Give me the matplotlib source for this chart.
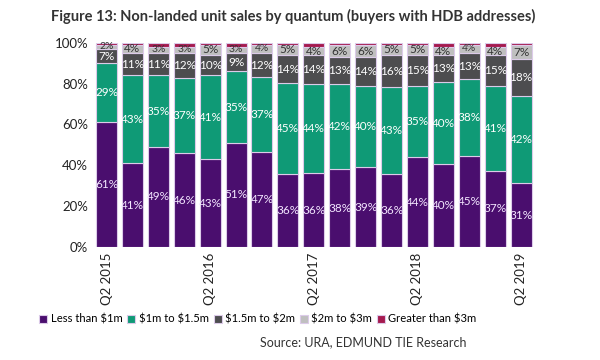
import numpy as np
import matplotlib
matplotlib.use("Agg")
import matplotlib.pyplot as plt

plt.rcParams['font.family'] = ['Lato', 'DejaVu Sans']
plt.rcParams['text.parse_math'] = False

# quarters Q2 2015 .. Q2 2019
quarters = ["Q2 2015", "Q3 2015", "Q4 2015", "Q1 2016", "Q2 2016", "Q3 2016", "Q4 2016",
            "Q1 2017", "Q2 2017", "Q3 2017", "Q4 2017", "Q1 2018", "Q2 2018", "Q3 2018",
            "Q4 2018", "Q1 2019", "Q2 2019"]
tick_labels = ["Q2 2015", "Q2 2016", "Q2 2017", "Q2 2018", "Q2 2019"]

less_1m = [61, 41, 49, 46, 43, 51, 47, 36, 36, 38, 39, 36, 44, 40, 45, 37, 31]
m1_15 = [29, 43, 35, 37, 41, 35, 37, 45, 44, 42, 40, 43, 35, 40, 38, 41, 42]
m15_2 = [7, 11, 11, 12, 10, 9, 12, 14, 14, 13, 14, 16, 15, 13, 13, 15, 18]
m2_3 = [2, 4, 3, 3, 5, 3, 4, 5, 4, 6, 6, 5, 5, 4, 4, 4, 7]
over_3m = [1, 1, 2, 2, 1, 2, 1, 1, 2, 1, 1, 1, 1, 2, 1, 2, 1]

series = [less_1m, m1_15, m15_2, m2_3, over_3m]
names = ["Less than $1m", "$1m to $1.5m", "$1.5m to $2m", "$2m to $3m", "Greater than $3m"]
colors = ["#4a0e6e", "#0f9a76", "#4d4d4f", "#bfbfbf", "#a51a4f"]
text_colors = ["#f3e6ff", "white", "white", "#333333", None]

data = np.array(series, dtype=float)
share = data / data.sum(axis=0) * 100

fig = plt.figure(figsize=(6, 3.6), dpi=100)
ax = fig.add_axes([0.156, 0.314, 0.734, 0.567])

x = np.arange(len(quarters))
bottom = np.zeros(len(quarters))
for i in range(len(series)):
    ax.bar(x, share[i], 0.81, bottom=bottom, color=colors[i],
           edgecolor="#dccbe9", linewidth=0.8, label=names[i])
    if text_colors[i] is not None:
        for j in range(len(quarters)):
            fs = 8.5 if share[i][j] >= 4 else 7.5
            ax.text(x[j], bottom[j] + share[i][j] / 2, "%d%%" % series[i][j],
                    ha="center", va="center", fontsize=fs, color=text_colors[i])
    bottom += share[i]

ax.set_xlim(-0.5, len(quarters) - 0.5)
ax.set_ylim(0, 100)
ax.set_yticks([0, 20, 40, 60, 80, 100])
ax.set_yticklabels(["0%", "20%", "40%", "60%", "80%", "100%"], fontsize=9.5, color="#222222")
ax.set_xticks([quarters.index(t) for t in tick_labels])
ax.set_xticklabels(tick_labels, rotation=90, fontsize=9.5, color="#222222")
ax.tick_params(length=0, pad=4)
for s in ax.spines.values():
    s.set_visible(False)

fig.text(0.085, 0.955, "Figure 13: Non-landed unit sales by quantum (buyers with HDB addresses)",
         fontsize=10.5, fontweight="bold", color="#333333", va="center")

fig.legend(loc="center", bbox_to_anchor=(0.43, 0.113), ncol=5, frameon=False,
           fontsize=8.1, handlelength=0.7, handleheight=0.7, handletextpad=0.3,
           columnspacing=0.45)

fig.text(0.778, 0.05, "Source: URA, EDMUND TIE Research", ha="right", va="center",
         fontsize=9, color="#333333")

fig.savefig("out.png", dpi=100)
